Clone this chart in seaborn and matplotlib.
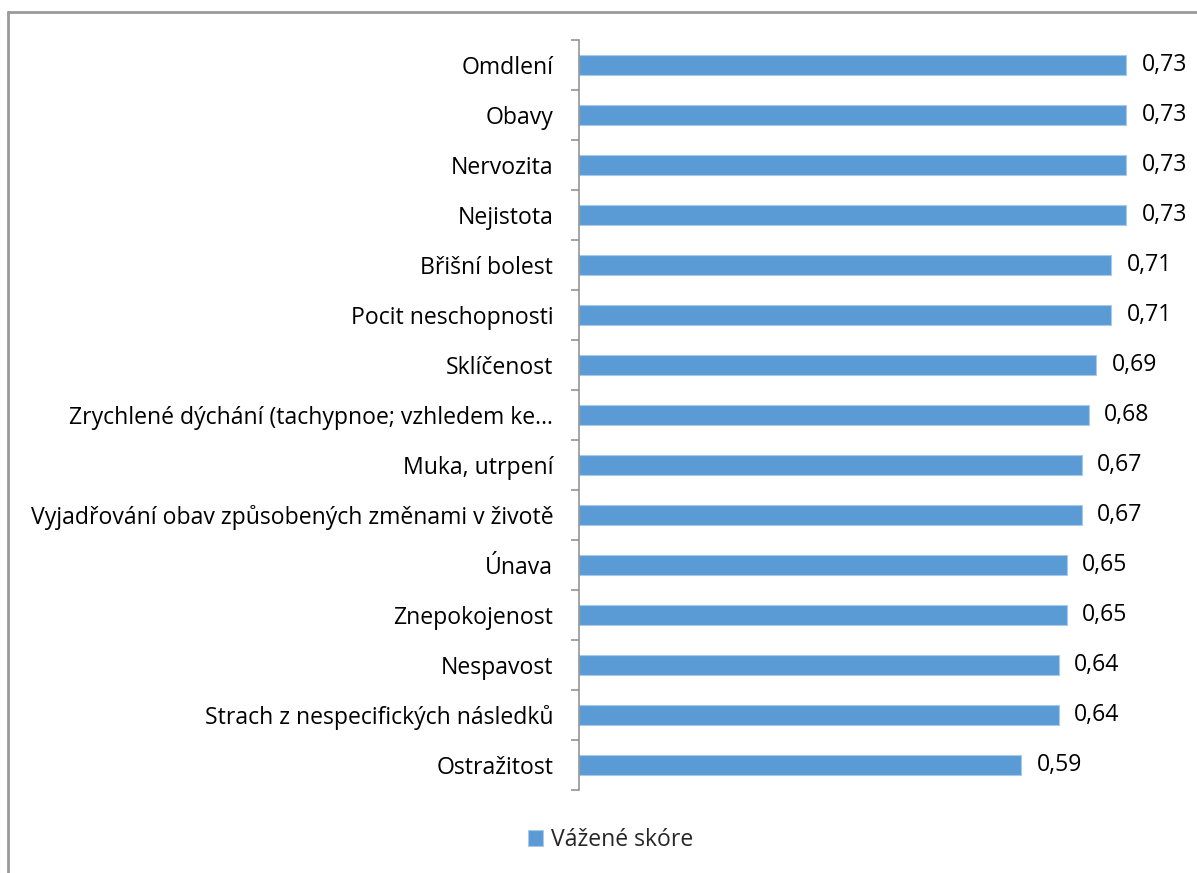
import matplotlib
matplotlib.use("Agg")
import matplotlib.pyplot as plt
from matplotlib.lines import Line2D
import seaborn as sns
import pandas as pd
import numpy as np

categories = [
    "Omdlení",
    "Obavy",
    "Nervozita",
    "Nejistota",
    "Břišní bolest",
    "Pocit neschopnosti",
    "Sklíčenost",
    "Zrychlené dýchání (tachypnoe; vzhledem ke…",
    "Muka, utrpení",
    "Vyjadřování obav způsobených změnami v životě",
    "Únava",
    "Znepokojenost",
    "Nespavost",
    "Strach z nespecifických následků",
    "Ostražitost",
]
values = [0.73, 0.73, 0.73, 0.73, 0.71, 0.71, 0.69, 0.68, 0.67, 0.67,
          0.65, 0.65, 0.64, 0.64, 0.59]
series_name = "Vážené skóre"

df = pd.DataFrame({"kategorie": categories, "skore": values})

sns.set_theme(style="white")
plt.rcParams["font.family"] = ["Open Sans", "DejaVu Sans"]

W, H = 1197, 873
FS = 16.6
fig = plt.figure(figsize=(W / 100, H / 100), dpi=100)
ax = fig.add_axes([579 / W, (H - 790) / H, 600 / W, 750 / H])

bar_color = "#5B9BD5"
sns.barplot(data=df, x="skore", y="kategorie", orient="h", order=categories,
            color=bar_color, saturation=1, width=0.4, edgecolor="#A9C9EA",
            linewidth=0.8, label=series_name, ax=ax)

ax.set_xlim(0, 0.8)
ax.set_ylim(len(categories) - 0.5, -0.5)
ax.set_xlabel("")
ax.set_ylabel("")
ax.set_xticks([])

# category labels, with tick marks placed on the category boundaries
ax.tick_params(axis="y", which="major", left=True, length=0, pad=18.5,
               labelsize=FS, labelcolor="#000000")
ax.set_yticks(np.arange(-0.5, len(categories) + 0.5, 1.0), minor=True)
ax.tick_params(axis="y", which="minor", left=True, length=5.8, width=1.1,
               color="#8C8C8C", direction="out")

for side in ["top", "right", "bottom"]:
    ax.spines[side].set_visible(False)
ax.spines["left"].set_color("#8C8C8C")
ax.spines["left"].set_linewidth(1.1)

# value labels at the bar ends
for cont in ax.containers:
    ax.bar_label(cont, labels=[f"{v:.2f}".replace(".", ",") for v in values],
                 padding=11, fontsize=FS, color="#000000")

leg = ax.legend(loc="center", bbox_to_anchor=(611 / W, 1 - 840 / H),
                bbox_transform=fig.transFigure, frameon=False,
                fontsize=FS, handlelength=0.65, handleheight=0.65,
                handletextpad=0.35)

# chart-area frame (left and top edges)
fig.add_artist(Line2D([7.5 / W, 7.5 / W], [0, 1 - 11.5 / H],
                      transform=fig.transFigure, color="#9A9A9A", lw=2))
fig.add_artist(Line2D([7.5 / W, 1], [1 - 11.5 / H, 1 - 11.5 / H],
                      transform=fig.transFigure, color="#9A9A9A", lw=2))

fig.savefig("out.png", dpi=100, facecolor="white")
